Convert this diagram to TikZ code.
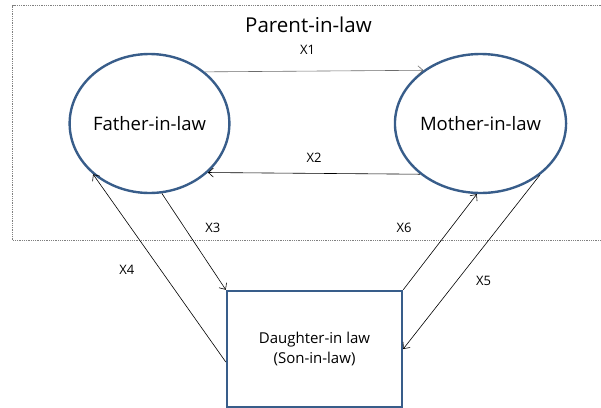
\documentclass[tikz,border=0pt]{standalone}
\usepackage{fontspec}
\setmainfont{Open Sans}
\usetikzlibrary{shapes.geometric,arrows.meta}
\definecolor{outline}{RGB}{56,93,138}

\begin{document}
\begin{tikzpicture}[
                    x=1pt,
                    y=-1pt,
                    >={Straight Barb[length=5pt,width=9pt]},
                    ->,
                    line width=0.6pt,
                    parent/.style={ellipse, draw=outline, line width=2.4pt,
                                   minimum width=159pt, minimum height=139pt,
                                   inner sep=0pt, font=\fontsize{18.5}{22}\selectfont},
                    child/.style={rectangle, draw=outline, line width=2.4pt,
                                  minimum width=175pt, minimum height=116pt,
                                  align=center, font=\fontsize{15}{20}\selectfont},
                    lbl/.style={font=\fontsize{13}{15}\selectfont, text=black, inner sep=0pt}
                ]
                \useasboundingbox (0,0) rectangle (601,407);
                \draw[-, gray, densely dotted, line width=0.8pt] (603,5.5) -- (12.5,5.5) -- (12.5,240.5) -- (603,240.5);

                \node (title)  at (308.5,25)  {\fontsize{20.5}{24}\selectfont Parent-in-law};
                \node (father) [parent] at (149.5,123.5) {Father-in-law};
                \node (mother) [parent] at (480.5,123.5) {Mother-in-law};
                \node (child)  [child]  at (314.5,349) {Daughter-in law\\(Son-in-law)};

                \path
                (father.43)  edge[->, gray!85!black] node[lbl, pos=.47, yshift=21pt] {X1} (mother.137)
                (mother.220) edge[->] node[lbl, pos=.5, yshift=16pt] {X2} (father.-40)
                (father.280) edge[->] node[lbl, pos=.36, xshift=28pt] {X3} (child.north west)
                ([yshift=-13pt]child.west) edge[->] node[lbl, pos=.49, xshift=-34pt] {X4} (father.222)
                (child.north east) edge[->] node[lbl, pos=.65, xshift=-47pt] {X6} (mother.267)
                (mother.319) edge[->] node[lbl, pos=.61, xshift=27pt] {X5} (child.east)
                ;
            \end{tikzpicture}
\end{document}
